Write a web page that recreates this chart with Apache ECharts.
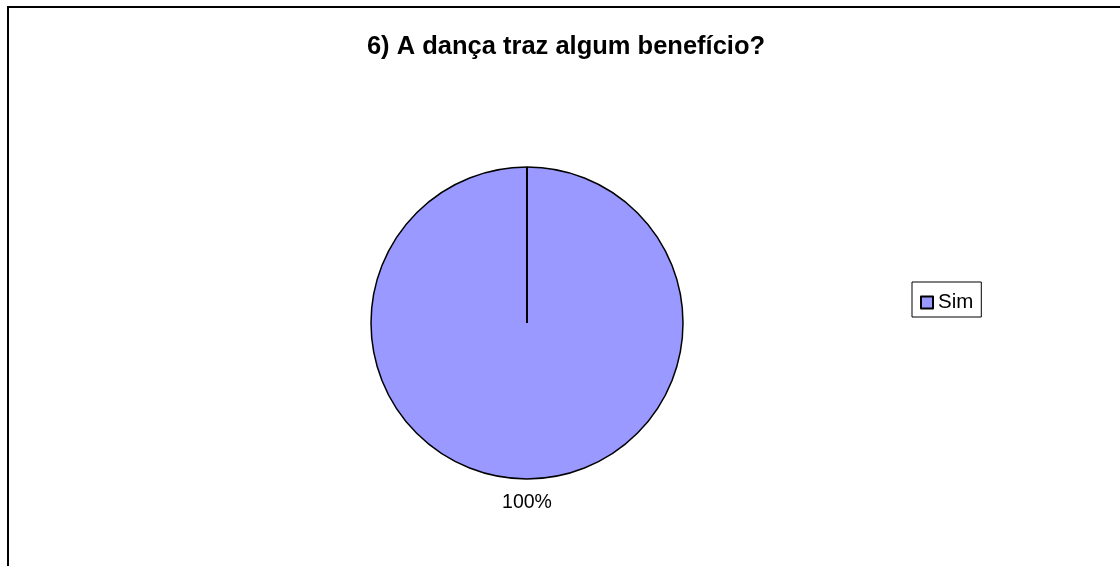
<!DOCTYPE html>
<html>
<head>
<meta charset="utf-8">
<script src="https://cdn.jsdelivr.net/npm/echarts@6/dist/echarts.min.js"></script>
<style>
  html, body { margin: 0; padding: 0; background: #fff; }
  #chart { width: 1120px; height: 566px; }
</style>
</head>
<body>
<div id="chart"></div>
<script>
// Survey answer shares
const titleText = '6) A dança traz algum benefício?';
const categories = ['Sim'];
const values = [100];
const sliceColors = ['#9999FF'];

const FONT = 'Arial, "Liberation Sans", sans-serif';
const chart = echarts.init(document.getElementById('chart'), null, { renderer: 'canvas' });

const option = {
  animation: false,
  backgroundColor: '#ffffff',
  color: sliceColors,
  title: {
    text: titleText,
    left: 566,
    top: 34,
    padding: 0,
    textAlign: 'center',
    textStyle: { fontFamily: FONT, fontSize: 25.5, fontWeight: 'bold', color: '#000', lineHeight: 26 }
  },
  legend: {
    orient: 'vertical',
    left: 912,
    top: 282,
    padding: [10, 8, 4, 8],
    borderColor: '#000',
    borderWidth: 1,
    itemWidth: 12,
    itemHeight: 12,
    itemGap: 6,
    icon: 'rect',
    data: categories,
    textStyle: { fontFamily: FONT, fontSize: 20.5, color: '#000', lineHeight: 20 }
  },
  graphic: [{
    id: 'frame',
    type: 'rect',
    silent: true,
    shape: { x: 8, y: 7, width: 1400, height: 900 },
    style: { fill: 'none', stroke: '#000', lineWidth: 2 }
  }],
  series: [{
    type: 'pie',
    center: [527, 323],
    radius: 156,
    startAngle: 90,
    clockwise: true,
    percentPrecision: 0,
    silent: true,
    itemStyle: { borderColor: '#000', borderWidth: 1.5 },
    label: {
      show: true,
      position: 'center',
      formatter: '{gap|}\n{v|{d}%}',
      rich: {
        gap: { height: 360 },
        v: { fontFamily: FONT, fontSize: 19.5, lineHeight: 20, color: '#000' }
      }
    },
    labelLine: { show: false },
    emphasis: { disabled: true },
    data: categories.map((name, i) => ({ name, value: values[i] }))
  }]
};

chart.setOption(option);

// Slice boundary at the start angle (a lone full slice has no radial edge of its own)
let lay = null;
try {
  lay = chart.getModel().getSeriesByIndex(0).getData().getItemLayout(0);
} catch (e) { lay = null; }
if (lay) {
  chart.setOption({
    graphic: [{
      id: 'sliceEdge',
      type: 'line',
      silent: true,
      z: 10,
      shape: {
        x1: lay.cx, y1: lay.cy,
        x2: lay.cx + lay.r * Math.cos(lay.startAngle),
        y2: lay.cy + lay.r * Math.sin(lay.startAngle)
      },
      style: { stroke: '#000', lineWidth: 2 }
    }]
  });
}
</script>
</body>
</html>
